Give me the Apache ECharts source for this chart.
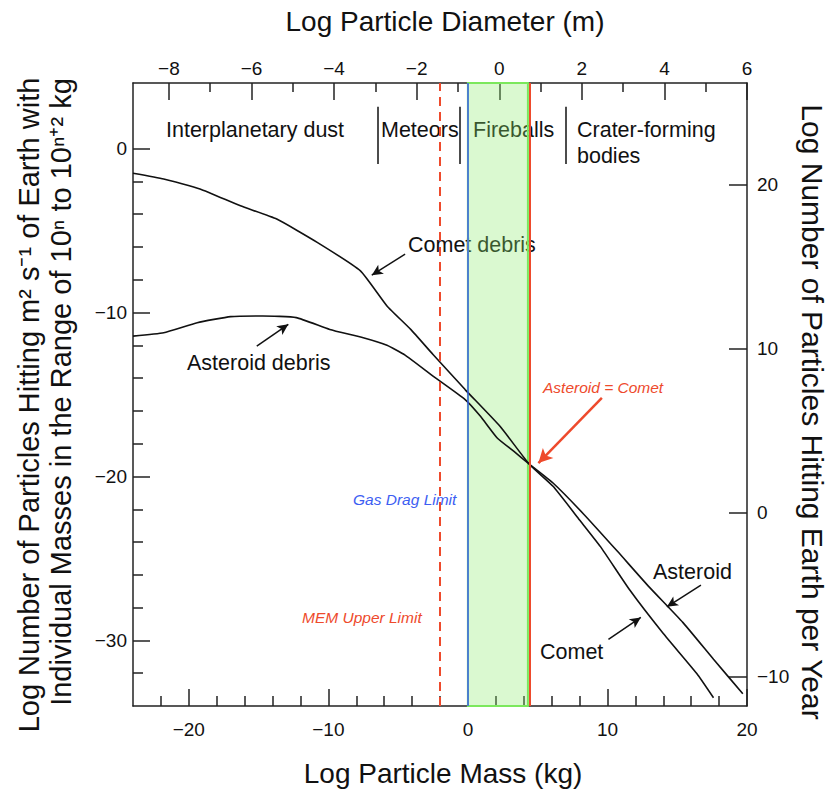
<!DOCTYPE html>
<html>
<head>
<meta charset="utf-8">
<script src="https://cdn.jsdelivr.net/npm/echarts@6/dist/echarts.min.js"></script>
<style>html,body{margin:0;padding:0;background:#fff}#c{width:830px;height:790px}</style>
</head>
<body>
<div id="c"></div>
<script>
// ---- data ----
const cometMass = [-24, -21.8, -19.2, -16.3, -13.7, -10.8, -7.7, -5.8, -4.1, -2.5, -0.2, 2.3, 4.4, 6.1, 8.0, 9.5, 11.6, 14.0, 16.4, 17.6];
const cometLog  = [-1.5, -1.85, -2.46, -3.49, -4.3, -5.72, -7.46, -9.6, -11.03, -12.56, -14.7, -16.94, -19.25, -20.6, -22.65, -24.28, -26.93, -29.58, -32.02, -33.5];
const asteroidMass = [-24, -21.8, -19.4, -17.0, -14.7, -12.3, -9.9, -7.5, -5.8, -4.5, -2.5, -0.2, 0.9, 2.1, 3.3, 4.4, 6.1, 8.3, 10.7, 13.0, 15.4, 17.6, 19.7];
const asteroidLog  = [-11.44, -11.23, -10.62, -10.25, -10.21, -10.31, -11.03, -11.54, -12.0, -12.6, -13.88, -15.31, -16.33, -17.65, -18.47, -19.25, -20.4, -22.3, -24.55, -26.75, -28.9, -31.15, -33.25];

const bottomMajor = [-20, -10, 0, 10, 20];
const bottomMinor = [-22, -18, -16, -14, -12, -8, -6, -4, -2, 2, 4, 6, 8, 12, 14, 16, 18];
const topMajor = [-8, -6, -4, -2, 0, 2, 4, 6];
const topMinor = [-7, -5, -3, -1, 1, 3, 5];
const leftMajor = [0, -10, -20, -30];
const leftMinor = [-2, -4, -6, -8, -12, -14, -16, -18, -22, -24, -26, -28, -32];
const rightMajor = [20, 10, 0, -10];

const massRange = [-24, 20];
const diamRange = [-8.87, 6];
const fluxRange = [-34, 4];
const yearOffset = 22.2; // log(Earth area * seconds per year)

const gasDragLimit = 0;
const memUpperLimit = -2;
const fireballBand = [0, 4.3];
const crossover = 4.4;

// ---- chart ----
const FONT = "'Liberation Sans', Arial, Helvetica, sans-serif";
const fmt = v => String(v).replace('-', '\u2212');
const AX = '#222';
const RED = '#ee4a2c', BLUE = '#3d5ef2', GREEN = '#7be85c';

function majorAxis(extra) {
  return Object.assign({
    type: 'value', splitLine: {show: false},
    axisLine: {show: true, onZero: false, lineStyle: {color: AX, width: 1.5}},
  }, extra);
}
function minorAxis(extra) {
  return Object.assign({
    type: 'value', splitLine: {show: false},
    axisLine: {show: false, onZero: false}, axisLabel: {show: false},
  }, extra);
}
const lbl = (vals, margin) => ({customValues: vals, color: '#111', fontSize: 19, fontFamily: FONT, formatter: fmt, margin: margin});
const tck = (vals, len) => ({inside: true, length: len, customValues: vals, lineStyle: {color: AX, width: 1.5}});
const pts = (xs, ys) => xs.map((x, i) => [x, ys[i]]);

const option = {
  animation: false,
  backgroundColor: '#fff',
  grid: {left: 133, right: 83, top: 83, bottom: 84},
  xAxis: [
    majorAxis({position: 'bottom', min: massRange[0], max: massRange[1], axisTick: tck(bottomMajor, 17), axisLabel: lbl(bottomMajor, 14)}),
    minorAxis({position: 'bottom', min: massRange[0], max: massRange[1], axisTick: tck(bottomMinor, 10)}),
    majorAxis({position: 'top', min: diamRange[0], max: diamRange[1], axisTick: tck(topMajor, 17), axisLabel: lbl(topMajor, 5)}),
    minorAxis({position: 'top', min: diamRange[0], max: diamRange[1], axisTick: tck(topMinor, 9)}),
  ],
  yAxis: [
    majorAxis({position: 'left', min: fluxRange[0], max: fluxRange[1], axisTick: tck(leftMajor, 17), axisLabel: lbl(leftMajor, 6)}),
    minorAxis({position: 'left', min: fluxRange[0], max: fluxRange[1], axisTick: tck(leftMinor, 10)}),
    majorAxis({position: 'right', min: fluxRange[0] + yearOffset, max: fluxRange[1] + yearOffset, axisTick: tck(rightMajor, 18), axisLabel: lbl(rightMajor, 10)}),
  ],
  series: [
    {
      type: 'line', xAxisIndex: 0, yAxisIndex: 0, data: [], z: 1, silent: true,
      markArea: {
        silent: true,
        itemStyle: {color: 'rgba(140,235,110,0.32)', borderColor: GREEN, borderWidth: 2},
        data: [[{xAxis: fireballBand[0]}, {xAxis: fireballBand[1]}]]
      },
      markLine: {
        silent: true, symbol: 'none', label: {show: false},
        data: [
          {xAxis: memUpperLimit, lineStyle: {color: RED, width: 2, type: [9, 6]}},
          {xAxis: gasDragLimit, lineStyle: {color: BLUE, width: 1.5, type: 'solid'}},
          {xAxis: crossover, lineStyle: {color: RED, width: 2, type: 'solid'}},
        ]
      }
    },
    {
      name: 'Comet', type: 'line', xAxisIndex: 0, yAxisIndex: 0, z: 3,
      data: pts(cometMass, cometLog), showSymbol: false, smooth: 0.15,
      lineStyle: {color: '#111', width: 1.6}
    },
    {
      name: 'Asteroid', type: 'line', xAxisIndex: 0, yAxisIndex: 0, z: 3,
      data: pts(asteroidMass, asteroidLog), showSymbol: false, smooth: 0.15,
      lineStyle: {color: '#111', width: 1.6},
      markLine: {
        silent: true, label: {show: false}, symbol: 'none',
        lineStyle: {color: '#111', width: 1.5, type: 'solid'},
        data: [
          // region separators
          [{coord: [-6.49, 2.55]}, {coord: [-6.49, -0.94]}],
          [{coord: [-0.61, 2.55]}, {coord: [-0.61, -0.94]}],
          [{coord: [7.04, 2.55]}, {coord: [7.04, -0.94]}],
          // annotation arrows
          [{coord: [-4.5, -6.44], symbol: 'none'}, {coord: [-6.89, -7.72], symbol: 'arrow', symbolSize: [8, 11]}],
          [{coord: [-15.13, -12.05], symbol: 'none'}, {coord: [-12.87, -10.72], symbol: 'arrow', symbolSize: [8, 11]}],
          [{coord: [16.7, -26.62], symbol: 'none'}, {coord: [14.26, -27.95], symbol: 'arrow', symbolSize: [8, 11]}],
          [{coord: [10.07, -29.94], symbol: 'none'}, {coord: [12.39, -28.6], symbol: 'arrow', symbolSize: [8, 11]}],
          [{coord: [9.6, -15.2], symbol: 'none'}, {coord: [5.05, -19.18], symbol: 'arrow', symbolSize: [11, 14],
            lineStyle: {color: RED, width: 2.5}}],
        ]
      }
    }
  ],
  graphic: [
    {type: 'text', x: 445, y: 21, style: {text: 'Log Particle Diameter (m)', font: `28px ${FONT}`, fill: '#111', align: 'center', verticalAlign: 'middle'}},
    {type: 'text', x: 443, y: 773, style: {text: 'Log Particle Mass (kg)', font: `28px ${FONT}`, fill: '#111', align: 'center', verticalAlign: 'middle'}},
    {type: 'text', x: 29, y: 405, rotation: Math.PI / 2, style: {text: 'Log Number of Particles Hitting m\u00b2 s\u207b\u00b9 of Earth with', font: `29px ${FONT}`, fill: '#111', align: 'center', verticalAlign: 'middle'}},
    {type: 'text', x: 61, y: 392, rotation: Math.PI / 2, style: {text: 'Individual Masses in the Range of 10\u207f to 10\u207f\u207a\u00b2 kg', font: `29px ${FONT}`, fill: '#111', align: 'center', verticalAlign: 'middle'}},
    {type: 'text', x: 812, y: 412, rotation: -Math.PI / 2, style: {text: 'Log Number of Particles Hitting Earth per Year', font: `30px ${FONT}`, fill: '#111', align: 'center', verticalAlign: 'middle'}},

    {type: 'text', x: 166, y: 130, style: {text: 'Interplanetary dust', font: `21.5px ${FONT}`, fill: '#111', align: 'left', verticalAlign: 'middle'}},
    {type: 'text', x: 381, y: 130, style: {text: 'Meteors', font: `21.5px ${FONT}`, fill: '#111', align: 'left', verticalAlign: 'middle'}},
    {type: 'text', x: 473, y: 130, style: {text: 'Fireballs', font: `21.5px ${FONT}`, fill: '#111', align: 'left', verticalAlign: 'middle'}},
    {type: 'text', x: 577, y: 130, style: {text: 'Crater-forming', font: `21.5px ${FONT}`, fill: '#111', align: 'left', verticalAlign: 'middle'}},
    {type: 'text', x: 577, y: 156, style: {text: 'bodies', font: `21.5px ${FONT}`, fill: '#111', align: 'left', verticalAlign: 'middle'}},
    {type: 'text', x: 408, y: 245, style: {text: 'Comet debris', font: `21.5px ${FONT}`, fill: '#111', align: 'left', verticalAlign: 'middle'}},
    {type: 'text', x: 187, y: 363, style: {text: 'Asteroid debris', font: `21.5px ${FONT}`, fill: '#111', align: 'left', verticalAlign: 'middle'}},
    {type: 'text', x: 653, y: 572, style: {text: 'Asteroid', font: `21.5px ${FONT}`, fill: '#111', align: 'left', verticalAlign: 'middle'}},
    {type: 'text', x: 540, y: 652, style: {text: 'Comet', font: `21.5px ${FONT}`, fill: '#111', align: 'left', verticalAlign: 'middle'}},

    {type: 'text', x: 543, y: 387, style: {text: 'Asteroid = Comet', font: `italic 15.5px ${FONT}`, fill: RED, align: 'left', verticalAlign: 'middle'}},
    {type: 'text', x: 353, y: 499, style: {text: 'Gas Drag Limit', font: `italic 15.5px ${FONT}`, fill: BLUE, align: 'left', verticalAlign: 'middle'}},
    {type: 'text', x: 302, y: 617, style: {text: 'MEM Upper Limit', font: `italic 15.5px ${FONT}`, fill: RED, align: 'left', verticalAlign: 'middle'}},
  ]
};

const chart = echarts.init(document.getElementById('c'), null, {renderer: 'svg'});
chart.setOption(option);
</script>
</body>
</html>
